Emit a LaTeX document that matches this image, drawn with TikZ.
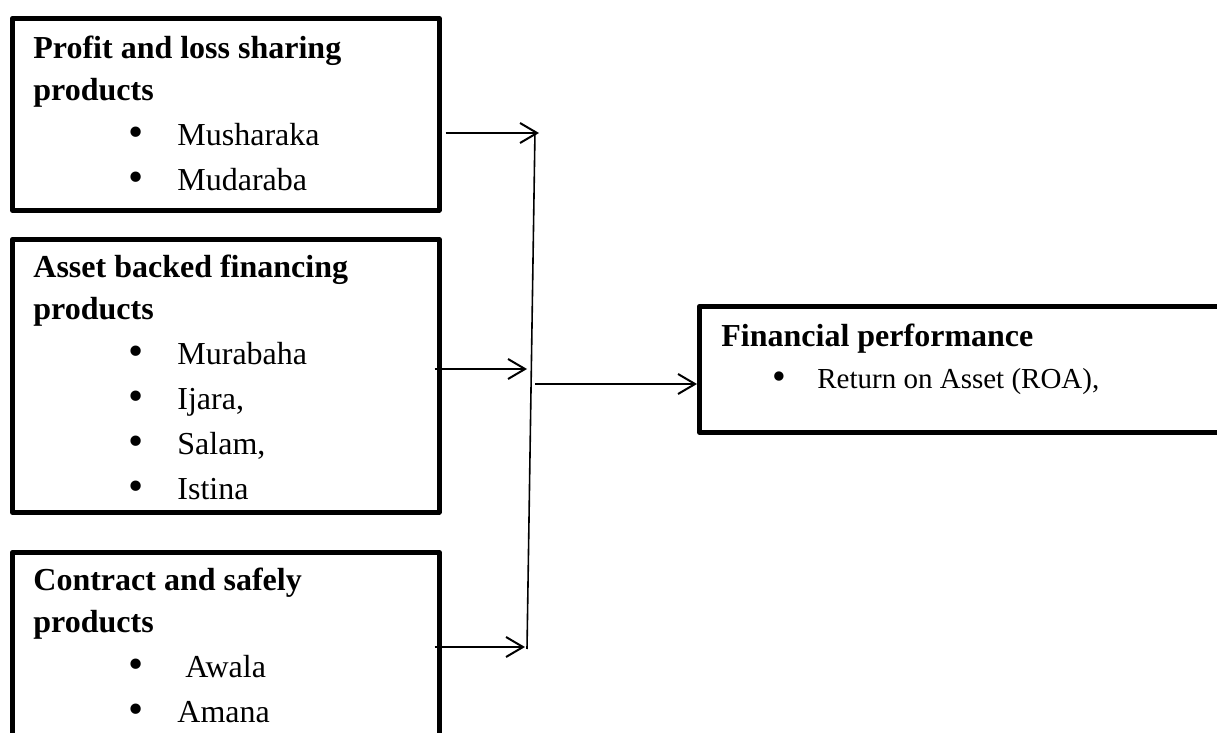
\documentclass[tikz,border=0pt]{standalone}
\usepackage{fontspec}
\setmainfont{Liberation Serif}
\usepackage{tikz}
\usetikzlibrary{arrows.meta,positioning,calc}
\newcommand{\dotmark}{\raisebox{-0.5pt}{\scalebox{1.35}{\textbullet}}}
\newcommand{\bitem}[1]{\hspace*{47.5pt}\makebox[24.5pt][l]{\dotmark}#1}
\newcommand{\topline}{\rule{0pt}{12pt}}
\tikzset{
  framebox/.style={draw, line width=2.3pt, line join=round, anchor=north west, inner sep=0pt, minimum width=213.5pt},
  boxtext/.style={anchor=north west, align=left, inner sep=0pt, font=\fontsize{16}{22.5}\selectfont},
  arr/.style={-{Straight Barb[length=8.5pt,width=10pt]}, line width=1pt},
  joinline/.style={line width=0.8pt}
}
\begin{document}
\begin{tikzpicture}[x=0.5pt,y=-0.5pt]
\useasboundingbox (0,0) rectangle (1217,733);
% input boxes
\node[framebox, minimum height=96pt] (plbox) at (10,16) {};
\node[framebox, minimum height=136.5pt] (abbox) at (10,237) {};
\node[framebox, minimum height=125pt] (csbox) at (10,550) {};
% output box
\node[framebox, minimum width=276.5pt, minimum height=63pt] (fpbox) at (697,304) {};
% texts, first baseline 24 below the given point
\node[boxtext] (pltext) at (33,34) {\topline\textbf{Profit and loss sharing}\\[-1.5pt]\textbf{products}\\\bitem{Musharaka}\\\bitem{Mudaraba}};
\node[boxtext] (abtext) at (33,253) {\topline\textbf{Asset backed financing}\\[-1.5pt]\textbf{products}\\\bitem{Murabaha}\\\bitem{Ijara,}\\\bitem{Salam,}\\\bitem{Istina}};
\node[boxtext] (cstext) at (33,566) {\topline\textbf{Contract and safely}\\[-1.5pt]\textbf{products}\\\bitem{\ Awala}\\\bitem{Amana}};
\node[boxtext] (fptext) at (721,322) {\topline\textbf{Financial performance}\\[-1.5pt]{\fontsize{14.5}{21}\selectfont\hspace*{25.5pt}\makebox[22.5pt][l]{\dotmark}Return on Asset (ROA),}};
% joining line
\coordinate (jtop) at (535,131);
\coordinate (jbot) at (527,649);
\coordinate (j1) at (539,133);
\coordinate (j2) at (527,369);
\coordinate (j3) at (525,647);
\coordinate (jmid) at (535,384);
\draw[joinline] (jtop) -- (jbot);
\draw[arr] ([xshift=2pt]plbox.east |- j1) -- (j1);
\draw[arr] ([xshift=-3.5pt]abbox.east |- j2) -- (j2);
\draw[arr] ([xshift=-3.5pt]csbox.east |- j3) -- (j3);
\draw[arr] (jmid) -- (fpbox.west |- jmid);
\end{tikzpicture}
\end{document}
